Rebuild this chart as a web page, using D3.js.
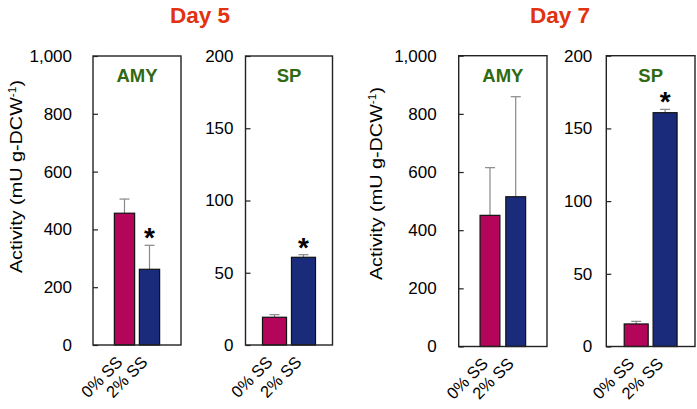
<!DOCTYPE html>
<html><head><meta charset="utf-8">
<script src="https://cdn.jsdelivr.net/npm/d3@7"></script>
<style>body{margin:0;background:#fff}svg{display:block}text{font-family:"Liberation Sans",Arial,Helvetica,sans-serif}</style>
</head><body><svg id="c" width="697" height="409"></svg>
<script>
const categories = ["0% SS", "2% SS"];
const dayTitles = ["Day 5", "Day 7"];
const panelNames = ["AMY", "SP", "AMY", "SP"];
const yMax = [1000, 200, 1000, 200];
const yTicks = [[0,200,400,600,800,1000],[0,50,100,150,200],[0,200,400,600,800,1000],[0,50,100,150,200]];
const day5Amy = [456, 262];
const day5AmyErr = [49, 83];
const day5Sp = [19.2, 60.7];
const day5SpErr = [1.8, 1.8];
const day7Amy = [451, 515];
const day7AmyErr = [164, 344];
const day7Sp = [15.5, 160.8];
const day7SpErr = [1.8, 2.3];
const significant = [[false,true],[false,true],[false,false],[false,true]];
const values = [day5Amy, day5Sp, day7Amy, day7Sp];
const errors = [day5AmyErr, day5SpErr, day7AmyErr, day7SpErr];

const colors = ["#b3065b", "#1b2b7b"];
const svg = d3.select("#c");

const layout = [
  {x0: 93, x1: 181, y0: 345, y1: 56, pi: 0.19, po: 0.855, gap: 21},
  {x0: 245.5, x1: 332.5, y0: 345, y1: 56, pi: 0.17, po: 0.586, gap: 12},
  {x0: 458.7, x1: 547, y0: 346.5, y1: 55.7, pi: 0.23, po: 0.83, gap: 22},
  {x0: 606.3, x1: 695, y0: 346.5, y1: 55.7, pi: 0.17, po: 0.62, gap: 14}
];

const titleX = [200, 560];
dayTitles.forEach((t,i) => {
  svg.append("text").attr("x", titleX[i]).attr("y", 22.5).attr("text-anchor","middle")
    .attr("font-size", 22.5).attr("font-weight","bold").attr("fill","#e2320f").text(t);
});

const yTitle = [{x: 22, y: 176.5}, {x: 382, y: 183.5}];
yTitle.forEach(p => {
  const t = svg.append("text").attr("transform", `translate(${p.x},${p.y}) rotate(-90) scale(1.2,1)`)
    .attr("text-anchor","middle").attr("font-size", 16.5).attr("fill","#000");
  t.append("tspan").text("Activity (mU g-DCW");
  t.append("tspan").attr("font-size", 10).attr("dy", -6).text("-1");
  t.append("tspan").attr("dy", 6).text(")");
});

layout.forEach((L, k) => {
  const y = d3.scaleLinear().domain([0, yMax[k]]).range([L.y0, L.y1]);
  const x = d3.scaleBand().domain(categories).range([L.x0, L.x1]).paddingInner(L.pi).paddingOuter(L.po);
  const g = svg.append("g");

  categories.forEach((c, i) => {
    const cx = x(c) + x.bandwidth()/2;
    const top = y(values[k][i] + errors[k][i]);
    g.append("line").attr("x1", cx).attr("x2", cx).attr("y1", y(values[k][i])).attr("y2", top)
      .attr("stroke", "#888").attr("stroke-width", 1.2);
    g.append("line").attr("x1", cx-5).attr("x2", cx+5).attr("y1", top).attr("y2", top)
      .attr("stroke", "#888").attr("stroke-width", 1.2);
    if (significant[k][i]) {
      g.append("text").attr("x", cx).attr("y", top + 2).attr("text-anchor","middle")
        .attr("font-size", 28).attr("font-weight","bold").attr("fill","#000").text("*");
    }
  });

  g.selectAll("rect.bar").data(categories).join("rect").attr("class","bar")
    .attr("x", d => x(d)).attr("width", x.bandwidth())
    .attr("y", (d,i) => y(values[k][i])).attr("height", (d,i) => y(0) - y(values[k][i]))
    .attr("fill", (d,i) => colors[i]).attr("stroke", "#111").attr("stroke-width", 1.2);

  g.append("rect").attr("x", L.x0).attr("y", L.y1).attr("width", L.x1 - L.x0).attr("height", L.y0 - L.y1)
    .attr("fill","none").attr("stroke","#222").attr("stroke-width", 1.4);

  const ax = g.append("g").attr("transform", `translate(${L.x0},0)`)
    .call(d3.axisRight(y).tickValues(yTicks[k]).tickSize(5).tickFormat(d3.format(",")));
  ax.select(".domain").remove();
  ax.selectAll(".tick line").attr("stroke","#222").attr("stroke-width", 1.2);
  ax.selectAll(".tick text").attr("x", -L.gap).attr("text-anchor","end")
    .attr("font-size", 17).attr("fill","#000").attr("font-family", null);

  g.append("text").attr("x", (L.x0 + L.x1)/2).attr("y", L.y1 + 26).attr("text-anchor","middle")
    .attr("font-size", 18.5).attr("font-weight","bold").attr("fill","#2f6a12").text(panelNames[k]);

  categories.forEach(c => {
    const cx = x(c) + x.bandwidth()/2;
    g.append("text").attr("transform", `translate(${cx - 5},${L.y0 + 14}) rotate(-45)`)
      .attr("text-anchor","end").attr("dy", "0.35em").attr("font-size", 16.5).attr("fill","#000").text(c);
  });
});
</script></body></html>
